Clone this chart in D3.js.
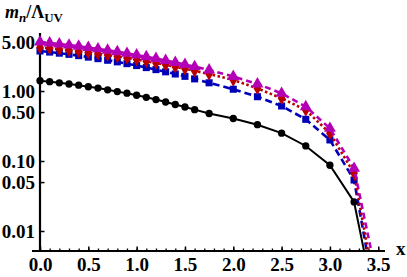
<!DOCTYPE html>
<html>
<head>
<meta charset="utf-8">
<script src="https://cdn.jsdelivr.net/npm/d3@7"></script>
<style>
  body { margin: 0; background: #fff; }
  text { font-family: "Liberation Serif", "Times New Roman", serif; font-weight: bold; }
</style>
</head>
<body>
<div id="chart"></div>
<script>
// sample points (x) shared by all curves
var xGrid = [0, 0.1, 0.2, 0.3, 0.4, 0.5, 0.6, 0.7, 0.8, 0.9, 1.0, 1.1, 1.2, 1.3, 1.4, 1.5, 1.6,
             1.75, 2.0, 2.25, 2.5, 2.75, 3.0, 3.25];

var blackVals = [1.40, 1.36, 1.31, 1.26, 1.21, 1.15, 1.10, 1.04, 0.98, 0.93, 0.87, 0.813, 0.754, 0.696,
                 0.641, 0.591, 0.542, 0.477, 0.405, 0.33, 0.25, 0.164, 0.087, 0.026];
var blueVals = [3.73, 3.60, 3.47, 3.34, 3.20, 3.05, 2.90, 2.75, 2.61, 2.46, 2.31, 2.16, 2.02, 1.88,
                1.75, 1.62, 1.49, 1.31, 1.06, 0.829, 0.611, 0.394, 0.20, 0.0535];
var redVals = [4.18, 4.07, 3.95, 3.82, 3.68, 3.54, 3.40, 3.26, 3.11, 2.96, 2.81, 2.66, 2.51, 2.37,
               2.22, 2.08, 1.94, 1.75, 1.44, 1.09, 0.787, 0.535, 0.249, 0.0667];
var magentaVals = [5.01, 4.86, 4.70, 4.53, 4.36, 4.18, 4.00, 3.82, 3.64, 3.45, 3.27, 3.09, 2.91, 2.73,
                   2.56, 2.39, 2.23, 2.00, 1.61, 1.26, 0.927, 0.597, 0.293, 0.0787];

// last point of each curve (falls below the plot range)
var tailX = [3.375, 3.395, 3.41, 3.44];
var tailY = [0.0037, 0.0041, 0.0039, 0.0043];

var yTicks = [5, 1, 0.5, 0.1, 0.05, 0.01];
var yTickLabels = ["5.00", "1.00", "0.50", "0.10", "0.05", "0.01"];
var xTicks = [0, 0.5, 1.0, 1.5, 2.0, 2.5, 3.0, 3.5];
var xTickLabels = ["0.0", "0.5", "1.0", "1.5", "2.0", "2.5", "3.0", "3.5"];
var xMinor = d3.range(0, 36).map(function(i) { return i / 10; });

var width = 407, height = 277;
var x0 = 40, x1 = 385, yTop = 33, yBot = 251;

var svg = d3.select("#chart").append("svg")
    .attr("width", width)
    .attr("height", height);

var x = d3.scaleLinear().domain([0, 3.57]).range([x0, x1]);
var y = d3.scaleLog().domain([0.00518, 6.74]).range([yBot, yTop]);

// x axis: minor ticks
svg.append("g")
    .attr("transform", "translate(0," + yBot + ")")
    .call(d3.axisBottom(x).tickValues(xMinor).tickSizeInner(-2.5).tickSizeOuter(0).tickFormat(""))
    .call(function(g) { g.select(".domain").remove(); })
    .selectAll("line").attr("stroke-width", 1.3);

// x axis: major ticks
var gx = svg.append("g")
    .attr("transform", "translate(0," + yBot + ")")
    .call(d3.axisBottom(x).tickValues(xTicks).tickSizeInner(-4.5).tickSizeOuter(0).tickPadding(7)
        .tickFormat(function(d, i) { return xTickLabels[i]; }));
gx.select(".domain").remove();
gx.selectAll("line").attr("stroke-width", 1.5);
gx.selectAll("text").attr("font-size", 19).attr("fill", "#000")
    .style("font-family", "'Liberation Serif', serif").style("font-weight", "bold");

// y axis
var gy = svg.append("g")
    .attr("transform", "translate(" + x0 + ",0)")
    .call(d3.axisLeft(y).tickValues(yTicks).tickSizeInner(-4.5).tickSizeOuter(0).tickPadding(5)
        .tickFormat(function(d, i) { return yTickLabels[i]; }));
gy.select(".domain").remove();
gy.selectAll("line").attr("stroke-width", 1.5);
gy.selectAll("text").attr("font-size", 19).attr("fill", "#000")
    .style("font-family", "'Liberation Serif', serif").style("font-weight", "bold");

// axis lines
svg.append("line").attr("x1", 32).attr("x2", x1).attr("y1", yBot).attr("y2", yBot)
    .attr("stroke", "#000").attr("stroke-width", 2.2);
svg.append("line").attr("x1", x0).attr("x2", x0).attr("y1", yTop).attr("y2", yBot)
    .attr("stroke", "#000").attr("stroke-width", 2.2);

// axis labels
var yl = svg.append("text").attr("x", 5).attr("y", 18).attr("font-size", 18);
yl.append("tspan").attr("font-style", "italic").text("m");
yl.append("tspan").attr("font-style", "italic").attr("font-size", 13).attr("dy", 4).text("n");
yl.append("tspan").attr("dy", -4).text("/Λ");
yl.append("tspan").attr("font-size", 13).attr("dy", 4).text("UV");

svg.append("text").attr("x", 396).attr("y", 255).attr("font-size", 19).text("x");

// curves
svg.append("clipPath").attr("id", "clip")
  .append("rect").attr("x", 28).attr("y", 0).attr("width", 370).attr("height", yBot - 1);

var series = [
  { vals: blackVals, color: "#000", dash: null, width: 2, sym: d3.symbolCircle, size: 42 },
  { vals: blueVals, color: "rgb(0,0,185)", dash: "7,4", width: 2.6, sym: d3.symbolSquare, size: 50 },
  { vals: redVals, color: "rgb(185,0,0)", dash: "2.5,2.5", width: 2.6, sym: d3.symbolDiamond, size: 52 },
  { vals: magentaVals, color: "rgb(180,0,180)", dash: "6,4", width: 2.6, sym: d3.symbolTriangle, size: 62 }
];

var line = d3.line()
    .x(function(d) { return x(d[0]); })
    .y(function(d) { return y(d[1]); });

var plot = svg.append("g").attr("clip-path", "url(#clip)");

series.forEach(function(s, k) {
  var pts = xGrid.map(function(xv, i) { return [xv, s.vals[i]]; });
  var full = pts.concat([[tailX[k], tailY[k]]]);
  plot.append("path")
      .attr("d", line(full))
      .attr("fill", "none")
      .attr("stroke", s.color)
      .attr("stroke-width", s.width)
      .attr("stroke-dasharray", s.dash);
  plot.selectAll(null)
      .data(pts)
      .enter()
      .append("path")
      .attr("d", d3.symbol().type(s.sym).size(s.size))
      .attr("transform", function(d) { return "translate(" + x(d[0]) + "," + y(d[1]) + ")"; })
      .attr("fill", s.color);
});
</script>
</body>
</html>
